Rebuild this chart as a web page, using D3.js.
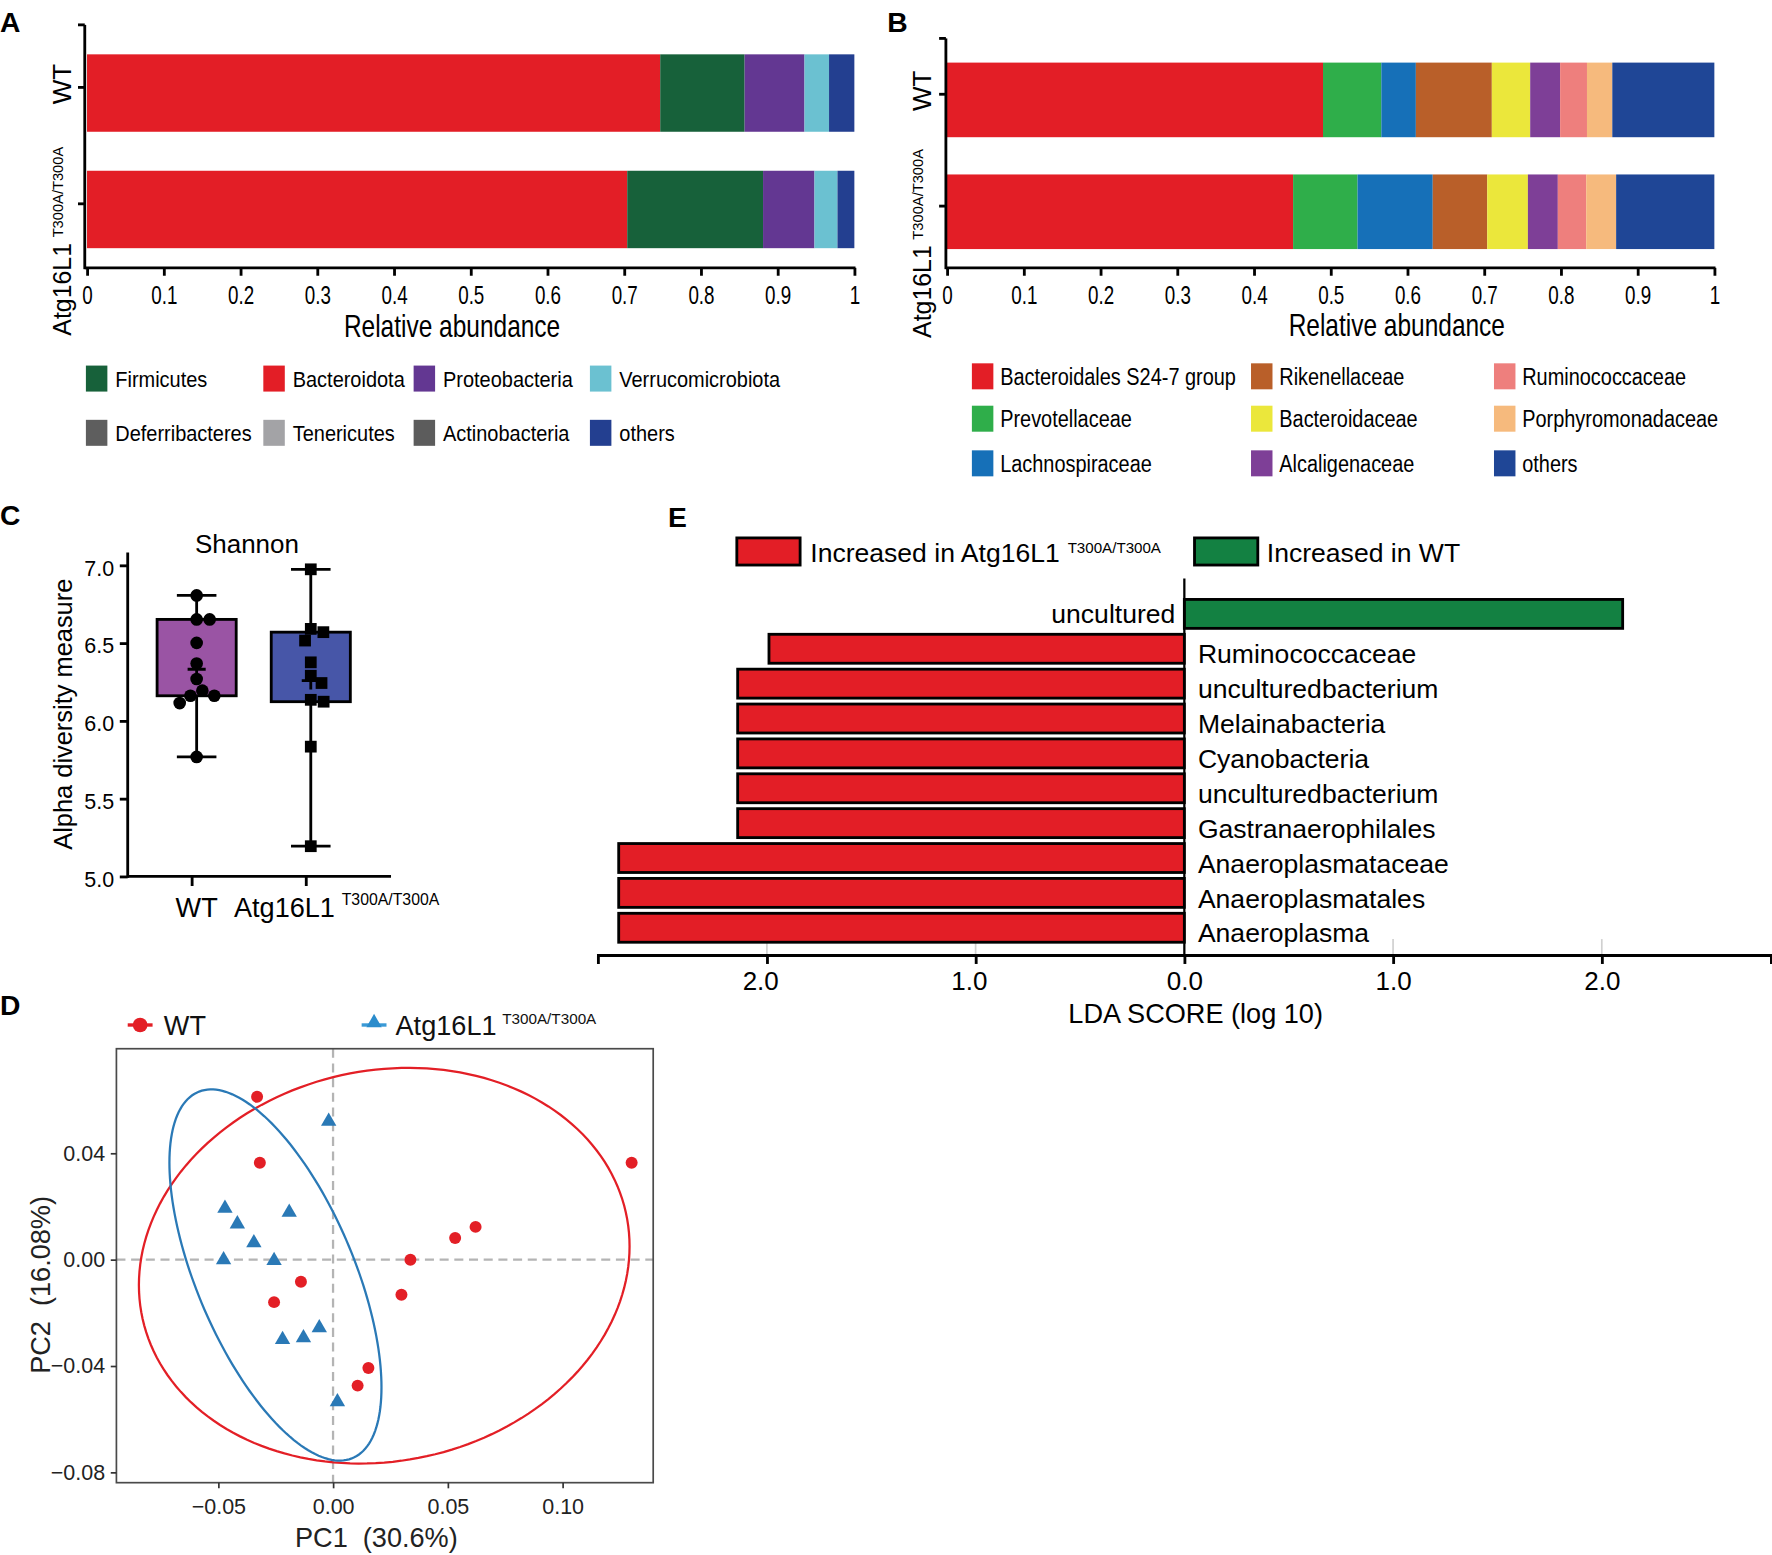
<!DOCTYPE html>
<html>
<head>
<meta charset="utf-8">
<script src="https://cdn.jsdelivr.net/npm/d3@7"></script>
<style>
  body { margin: 0; background: #fff; }
</style>
</head>
<body>
<div id="chart"></div>
<script>
// ---------- data ----------
const groups = ["WT", "Atg"];

// A: phylum level relative abundance
const phylumKeys = ["Bacteroidota", "Firmicutes", "Proteobacteria", "Verrucomicrobiota",
  "Deferribacteres", "Tenericutes", "Actinobacteria", "others"];
const phylumWT  = [0.747, 0.110, 0.078, 0.032, 0, 0, 0, 0.033];
const phylumAtg = [0.704, 0.177, 0.067, 0.030, 0, 0, 0, 0.022];
const phylumLegend = ["Firmicutes", "Bacteroidota", "Proteobacteria", "Verrucomicrobiota",
  "Deferribacteres", "Tenericutes", "Actinobacteria", "others"];

// B: family level relative abundance
const familyKeys = ["Bacteroidales S24-7 group", "Prevotellaceae", "Lachnospiraceae",
  "Rikenellaceae", "Bacteroidaceae", "Alcaligenaceae",
  "Ruminococcaceae", "Porphyromonadaceae", "others"];
const familyWT  = [0.490, 0.076, 0.045, 0.099, 0.050, 0.039, 0.035, 0.033, 0.133];
const familyAtg = [0.451, 0.084, 0.098, 0.071, 0.053, 0.039, 0.037, 0.039, 0.128];

// C: Shannon index
const shannonWT  = [6.806, 6.652, 6.652, 6.501, 6.368, 6.269, 6.194, 6.161, 6.161, 6.114, 5.768];
const shannonAtg = [6.974, 6.591, 6.570, 6.516, 6.376, 6.290, 6.243, 6.135, 6.123, 5.834, 5.194];
const shannonTicks = [5.0, 5.5, 6.0, 6.5, 7.0];

// D: PCoA
const pcWT_x  = [-0.0331, -0.0319, -0.0140, -0.0257, 0.0337, 0.0532, 0.0621, 0.0298, 0.0154, 0.0107, 0.1301];
const pcWT_y  = [ 0.0612,  0.0364, -0.0083, -0.0160, -0.0001, 0.0081, 0.0123, -0.0132, -0.0408, -0.0474, 0.0364];
const pcAtg_x = [-0.0019, -0.0471, -0.0417, -0.0191, -0.0345, -0.0477, -0.0257, -0.0060, -0.0220, -0.0129, 0.0019];
const pcAtg_y = [ 0.0520,  0.0193,  0.0134,  0.0178,  0.0063, -0.0001, -0.0004, -0.0257, -0.0301, -0.0294, -0.0535];
// ellipse: centre, spread along x, spread along y, correlation
const ellipseWT  = [0.0223, -0.0023, 0.1069, 0.0744, 0.098];
const ellipseAtg = [-0.0251, -0.0058, 0.0462, 0.0698, -0.605];
const pcXTicks = [-0.05, 0, 0.05, 0.10];
const pcYTicks = [-0.08, -0.04, 0, 0.04];

// E: LEfSe LDA scores (positive = WT)
const ldaLabels = ["uncultured", "Ruminococcaceae", "unculturedbacterium", "Melainabacteria",
  "Cyanobacteria", "unculturedbacterium", "Gastranaerophilales",
  "Anaeroplasmataceae", "Anaeroplasmatales", "Anaeroplasma"];
const ldaScores = [2.10, -1.99, -2.14, -2.14, -2.14, -2.14, -2.14, -2.71, -2.71, -2.71];
const ldaTicks = [-2, -1, 0, 1, 2];

// ---------- setup ----------
const W = 1568, H = 1376;
const FONT = "'Liberation Sans', Arial, Helvetica, sans-serif";
const svg = d3.select("#chart").append("svg")
  .attr("width", 1772).attr("height", 1555)
  .attr("viewBox", `0 0 ${W} ${H}`)
  .style("font-family", FONT)
  .style("background", "#fff");

function txt(g, x, y, s, size, o = {}) {
  let tr = `translate(${x},${y})`;
  if (o.rotate) tr += ` rotate(${o.rotate})`;
  if (o.k) tr += ` scale(${o.k},1)`;
  return g.append("text")
    .attr("transform", tr)
    .attr("text-anchor", o.anchor || "start")
    .attr("font-size", size)
    .attr("font-weight", o.weight || "normal")
    .attr("fill", o.fill || "#000")
    .text(s);
}
function sup(t, s, size, dx, dy) {
  t.append("tspan").attr("font-size", size).attr("dx", dx).attr("dy", dy).text(s);
}
function styleAxis(g, sw, size, k) {
  g.selectAll(".domain").attr("stroke", "#000").attr("stroke-width", sw);
  g.selectAll(".tick line").attr("stroke", "#000").attr("stroke-width", sw);
  g.selectAll(".tick text").attr("font-size", size).attr("fill", "#000").attr("font-family", FONT);
  if (k) g.selectAll(".tick text").attr("transform", `scale(${k},1)`);
}

// panel letters
[["A", 0, 28], ["B", 785, 28], ["C", 0, 465], ["E", 591, 466], ["D", 0, 898]]
  .forEach(([s, x, y]) => txt(svg, x, y, s, 25, { weight: "bold" }));

// ---------- stacked bar panels (A, B) ----------
function stackedPanel(cfg) {
  const g = svg.append("g");
  const rows = [cfg.wt, cfg.atg].map((vals, i) => {
    const r = { group: groups[i] };
    cfg.keys.forEach((k, j) => r[k] = vals[j]);
    return r;
  });
  const series = d3.stack().keys(cfg.keys)(rows);
  const x = d3.scaleLinear().domain([0, 1]).range(cfg.xr);
  const y = d3.scaleBand().domain(groups).range(cfg.yr)
    .paddingInner(cfg.pi).paddingOuter(cfg.po).align(cfg.align);

  g.selectAll("g.layer").data(series).join("g").attr("class", "layer")
    .attr("fill", d => cfg.colors[d.key])
    .selectAll("rect").data(d => d).join("rect")
    .attr("x", d => x(d[0]))
    .attr("y", d => y(d.data.group))
    .attr("width", d => x(d[1]) - x(d[0]))
    .attr("height", y.bandwidth());

  // x axis
  const ax = g.append("g").attr("transform", `translate(0,${cfg.yr[1]})`)
    .call(d3.axisBottom(x).tickValues(d3.ticks(0, 1, 10)).tickFormat(d3.format(""))
      .tickSizeInner(7).tickSizeOuter(0).tickPadding(9));
  ax.select(".domain").remove();
  styleAxis(ax, 2.5, 22.5, 0.74);
  g.append("line").attr("x1", cfg.yAxisX).attr("x2", cfg.xr[1] + 1)
    .attr("y1", cfg.yr[1]).attr("y2", cfg.yr[1]).attr("stroke", "#000").attr("stroke-width", 2.5);

  // y axis
  g.append("line").attr("x1", cfg.yAxisX).attr("x2", cfg.yAxisX)
    .attr("y1", cfg.yr[0]).attr("y2", cfg.yr[1] + 1.2).attr("stroke", "#000").attr("stroke-width", 2.5);
  const yt = [cfg.yr[0]].concat(groups.map(d => y(d) + y.bandwidth() / 2 - 5));
  g.selectAll("line.ytick").data(yt).join("line").attr("class", "ytick")
    .attr("x1", cfg.yAxisX - 6).attr("x2", cfg.yAxisX).attr("y1", d => d).attr("y2", d => d)
    .attr("stroke", "#000").attr("stroke-width", 2.5);

  // y labels
  txt(g, cfg.labX, y("WT") + y.bandwidth() / 2 - 8, "WT", 23, { rotate: -90, anchor: "middle" });
  const t = txt(g, cfg.labX, cfg.atgStart, "Atg16L1", 22, { rotate: -90 });
  sup(t, "T300A/T300A", 13, 5, -7);

  // axis title
  txt(g, cfg.titleX, cfg.titleY, "Relative abundance", 28.5, { anchor: "middle", k: 0.76 });

  // legend
  cfg.legend.forEach((k, i) => {
    const cx = cfg.legCols[cfg.legCol(i)], cy = cfg.legRows[cfg.legRow(i)];
    g.append("rect").attr("x", cx).attr("y", cy - 11.5).attr("width", 19).attr("height", 23)
      .attr("fill", cfg.colors[k]);
    txt(g, cx + cfg.legGap, cy + 7.5, k, cfg.legSize, { k: cfg.legK });
  });
}

stackedPanel({
  keys: phylumKeys, wt: phylumWT, atg: phylumAtg, legend: phylumLegend,
  colors: {
    Bacteroidota: "#e31e26", Firmicutes: "#17613a", Proteobacteria: "#633792",
    Verrucomicrobiota: "#6bc1d1", Deferribacteres: "#5e5e5e", Tenericutes: "#a3a3a6",
    Actinobacteria: "#5c5c5c", others: "#233f90"
  },
  xr: [77, 756], yr: [22, 237], pi: 0.335, po: 0.211, align: 0.6,
  yAxisX: 75, labX: 63, atgStart: 297, titleX: 400, titleY: 298,
  legCols: [76, 233, 366, 522], legRows: [335, 383], legGap: 26,
  legCol: i => i % 4, legRow: i => Math.floor(i / 4), legSize: 19, legK: 0.93
});

stackedPanel({
  keys: familyKeys, wt: familyWT, atg: familyAtg, legend: familyKeys,
  colors: {
    "Bacteroidales S24-7 group": "#e31e26", Prevotellaceae: "#2fae4a", Lachnospiraceae: "#1670b8",
    Rikenellaceae: "#b95f29", Bacteroidaceae: "#ebe73b", Alcaligenaceae: "#7e3f97",
    Ruminococcaceae: "#ee7f7d", Porphyromonadaceae: "#f6ba7d", others: "#1f4696"
  },
  xr: [838, 1517], yr: [34, 237], pi: 0.333, po: 0.192, align: 0.563,
  yAxisX: 837, labX: 824, atgStart: 299, titleX: 1236, titleY: 297,
  legCols: [860, 1107, 1322], legRows: [333, 370.5, 410], legGap: 25,
  legCol: i => Math.floor(i / 3), legRow: i => i % 3, legSize: 20.5, legK: 0.86
});

// ---------- C: Shannon box plot ----------
{
  const g = svg.append("g");
  const y = d3.scaleLinear().domain([5, 7]).range([775.5, 500.2]);
  const x = d3.scalePoint().domain(groups).range([174, 275]);
  const sets = [shannonWT, shannonAtg];
  const fills = ["#9a54a4", "#4756a8"];

  // y axis
  const ay = g.append("g").attr("transform", "translate(113,0)")
    .call(d3.axisLeft(y).tickValues(shannonTicks).tickFormat(d3.format(".1f"))
      .tickSizeInner(7).tickSizeOuter(0).tickPadding(5));
  ay.select(".domain").remove();
  styleAxis(ay, 2.5, 19);
  ay.selectAll(".tick text").attr("dy", "0.45em");
  g.append("line").attr("x1", 113).attr("x2", 113).attr("y1", 489).attr("y2", 776.7)
    .attr("stroke", "#000").attr("stroke-width", 2.5);
  g.append("line").attr("x1", 113).attr("x2", 346).attr("y1", 775.5).attr("y2", 775.5)
    .attr("stroke", "#000").attr("stroke-width", 2.5);
  g.selectAll("line.xt").data(groups).join("line").attr("class", "xt")
    .attr("x1", d => x(d) - 4).attr("x2", d => x(d) - 4).attr("y1", 775.5).attr("y2", 784)
    .attr("stroke", "#000").attr("stroke-width", 2.5);

  // quartiles, (n+1) method
  const q = (arr, p) => {
    const s = arr.slice().sort(d3.ascending), pos = (s.length + 1) * p - 1;
    const lo = Math.floor(pos), f = pos - lo;
    return s[lo] + (s[Math.min(lo + 1, s.length - 1)] - s[lo]) * f;
  };

  sets.forEach((vals, i) => {
    const cx = x(groups[i]);
    const lo = d3.min(vals), hi = d3.max(vals);
    const q1 = q(vals, 0.25), q3 = q(vals, 0.75);
    g.append("line").attr("x1", cx).attr("x2", cx).attr("y1", y(hi)).attr("y2", y(lo))
      .attr("stroke", "#000").attr("stroke-width", 2.5);
    [lo, hi].forEach(v => g.append("line").attr("x1", cx - 17.5).attr("x2", cx + 17.5)
      .attr("y1", y(v)).attr("y2", y(v)).attr("stroke", "#000").attr("stroke-width", 2.5));
    g.append("rect").attr("x", cx - 35).attr("width", 70)
      .attr("y", y(q3)).attr("height", y(q1) - y(q3))
      .attr("fill", fills[i]).attr("stroke", "#000").attr("stroke-width", 2.5);

    // simple beeswarm
    const D = 11.5, placed = [];
    vals.forEach(v => {
      const py = y(v), cands = [0];
      placed.forEach(p => {
        const dy = Math.abs(p.y - py);
        if (dy < D) { const dx = Math.sqrt(D * D - dy * dy); cands.push(p.dx + dx, p.dx - dx); }
      });
      cands.sort((a, b) => Math.abs(a) - Math.abs(b));
      const dx = cands.find(c => placed.every(p => (p.dx - c) ** 2 + (p.y - py) ** 2 >= D * D - 0.01));
      placed.push({ y: py, dx });
    });
    placed.forEach(p => {
      if (i === 0) g.append("circle").attr("cx", cx + p.dx).attr("cy", p.y).attr("r", 5.6).attr("fill", "#000");
      else g.append("rect").attr("x", cx + p.dx - 5.2).attr("y", p.y - 5.2)
        .attr("width", 10.4).attr("height", 10.4).attr("fill", "#000");
    });
    const m = y(d3.mean(vals));
    g.append("path").attr("d", `M${cx - 8},${m}H${cx + 8}M${cx},${m - 8}V${m + 8}`)
      .attr("stroke", "#000").attr("stroke-width", 2.5);
  });

  txt(g, 218.5, 489, "Shannon", 23, { anchor: "middle" });
  txt(g, 64, 632, "Alpha diversity measure", 22.5, { rotate: -90, anchor: "middle" });
  txt(g, x("WT"), 811, "WT", 24, { anchor: "middle" });
  const t = txt(g, x("Atg") - 68, 811, "Atg16L1", 24);
  sup(t, "T300A/T300A", 14, 6, -10);
}

// ---------- D: PCoA ----------
{
  const g = svg.append("g");
  const x = d3.scaleLinear().domain([-0.0944, 0.1395]).range([103, 578]);
  const y = d3.scaleLinear().domain([-0.0839, 0.0793]).range([1312, 928]);
  const red = "#e31f26", blue = "#2a79b6";

  g.append("line").attr("x1", x(0)).attr("x2", x(0)).attr("y1", 928).attr("y2", 1312)
    .attr("stroke", "#b4b4b4").attr("stroke-width", 2).attr("stroke-dasharray", "8,5");
  g.append("line").attr("x1", 103).attr("x2", 578).attr("y1", y(0)).attr("y2", y(0))
    .attr("stroke", "#b4b4b4").attr("stroke-width", 2).attr("stroke-dasharray", "8,5");

  const ellipse = ([cx, cy, sx, sy, r], color) => {
    const pts = d3.range(0, 2 * Math.PI + 0.01, Math.PI / 90).map(t => [
      x(cx + sx * Math.cos(t)),
      y(cy + r * sy * Math.cos(t) + sy * Math.sqrt(1 - r * r) * Math.sin(t))
    ]);
    g.append("path").attr("d", d3.line()(pts)).attr("fill", "none")
      .attr("stroke", color).attr("stroke-width", 2);
  };
  ellipse(ellipseWT, red);
  ellipse(ellipseAtg, blue);

  pcWT_x.forEach((v, i) => g.append("circle").attr("cx", x(v)).attr("cy", y(pcWT_y[i]))
    .attr("r", 5.3).attr("fill", red));
  const tri = d3.symbol().type(d3.symbolTriangle).size(80);
  pcAtg_x.forEach((v, i) => g.append("path").attr("d", tri)
    .attr("transform", `translate(${x(v)},${y(pcAtg_y[i])})`).attr("fill", blue));

  g.append("rect").attr("x", 103).attr("y", 928).attr("width", 475).attr("height", 384)
    .attr("fill", "none").attr("stroke", "#4a4a4a").attr("stroke-width", 1.5);

  const axl = g.append("g").attr("transform", "translate(103,0)")
    .call(d3.axisLeft(y).tickValues(pcYTicks).tickFormat(d3.format(".2f")).tickSize(5).tickPadding(5));
  axl.select(".domain").remove();
  axl.selectAll(".tick line").attr("stroke", "#333").attr("stroke-width", 1.5);
  axl.selectAll(".tick text").attr("font-size", 19).attr("fill", "#222").attr("font-family", FONT);
  const axb = g.append("g").attr("transform", "translate(0,1312)")
    .call(d3.axisBottom(x).tickValues(pcXTicks).tickFormat(d3.format(".2f")).tickSize(5).tickPadding(9));
  axb.select(".domain").remove();
  axb.selectAll(".tick line").attr("stroke", "#333").attr("stroke-width", 1.5);
  axb.selectAll(".tick text").attr("font-size", 19).attr("fill", "#222").attr("font-family", FONT);

  txt(g, 333, 1369, "PC1\u00a0\u00a0(30.6%)", 24, { anchor: "middle", fill: "#222" });
  txt(g, 44, 1137, "PC2\u00a0\u00a0(16.08%)", 24, { anchor: "middle", rotate: -90, fill: "#222" });

  // legend
  g.append("line").attr("x1", 113).attr("x2", 135).attr("y1", 907).attr("y2", 907)
    .attr("stroke", red).attr("stroke-width", 3);
  g.append("circle").attr("cx", 124).attr("cy", 907).attr("r", 6.5).attr("fill", red);
  txt(g, 145, 916, "WT", 24, { fill: "#111" });
  g.append("line").attr("x1", 320).attr("x2", 342).attr("y1", 907).attr("y2", 907)
    .attr("stroke", "#3a9ad6").attr("stroke-width", 3);
  g.append("path").attr("d", tri).attr("transform", "translate(331,905)").attr("fill", "#2b8ccc");
  const t = txt(g, 350, 916, "Atg16L1", 24, { fill: "#111" });
  sup(t, "T300A/T300A", 13.5, 5, -10);
}

// ---------- E: LDA ----------
{
  const g = svg.append("g");
  const x = d3.scaleLinear().domain([-2.81, 2.81]).range([529, 1567]);
  const y = d3.scaleBand().domain(d3.range(ldaLabels.length)).range([527.8, 836.4])
    .paddingInner(0.17).paddingOuter(0.085);
  const red = "#e31e26", green = "#138142";

  // light grid stubs above the axis
  g.selectAll("line.stub").data(ldaTicks.filter(d => d !== 0)).join("line").attr("class", "stub")
    .attr("x1", d => x(d)).attr("x2", d => x(d)).attr("y1", 831).attr("y2", 845)
    .attr("stroke", "#d0d0d0").attr("stroke-width", 1.5);

  g.selectAll("rect.bar").data(ldaScores).join("rect").attr("class", "bar")
    .attr("x", d => x(Math.min(0, d)))
    .attr("width", d => Math.abs(x(d) - x(0)))
    .attr("y", (d, i) => y(i)).attr("height", y.bandwidth())
    .attr("fill", d => d > 0 ? green : red)
    .attr("stroke", "#000").attr("stroke-width", 2.5);

  g.append("line").attr("x1", x(0)).attr("x2", x(0)).attr("y1", 512).attr("y2", 845)
    .attr("stroke", "#000").attr("stroke-width", 2);

  ldaLabels.forEach((s, i) => {
    const cy = y(i) + y.bandwidth() / 2;
    if (ldaScores[i] > 0) txt(g, x(0) - 8, cy + 8, s, 23.5, { anchor: "end" });
    else txt(g, x(0) + 12, cy + 13, s, 23.5);
  });

  const ax = g.append("g").attr("transform", "translate(0,845)")
    .call(d3.axisBottom(x).tickValues(ldaTicks).tickFormat(d => Math.abs(d).toFixed(1))
      .tickSizeInner(8).tickSizeOuter(8).tickPadding(7));
  styleAxis(ax, 2.5, 23);
  ax.selectAll(".tick text").attr("dx", d => d < 0 ? -6 : 0);

  txt(g, 1058, 905, "LDA SCORE (log 10)", 24, { anchor: "middle" });

  // legend
  g.append("rect").attr("x", 652).attr("y", 476).attr("width", 56).attr("height", 24)
    .attr("fill", red).attr("stroke", "#000").attr("stroke-width", 2.5);
  const t = txt(g, 717, 497, "Increased in Atg16L1", 23.5);
  sup(t, "T300A/T300A", 13.4, 7, -8);
  g.append("rect").attr("x", 1057).attr("y", 476).attr("width", 56).attr("height", 24)
    .attr("fill", green).attr("stroke", "#000").attr("stroke-width", 2.5);
  txt(g, 1121, 497, "Increased in WT", 23.5);
}
</script>
</body>
</html>
